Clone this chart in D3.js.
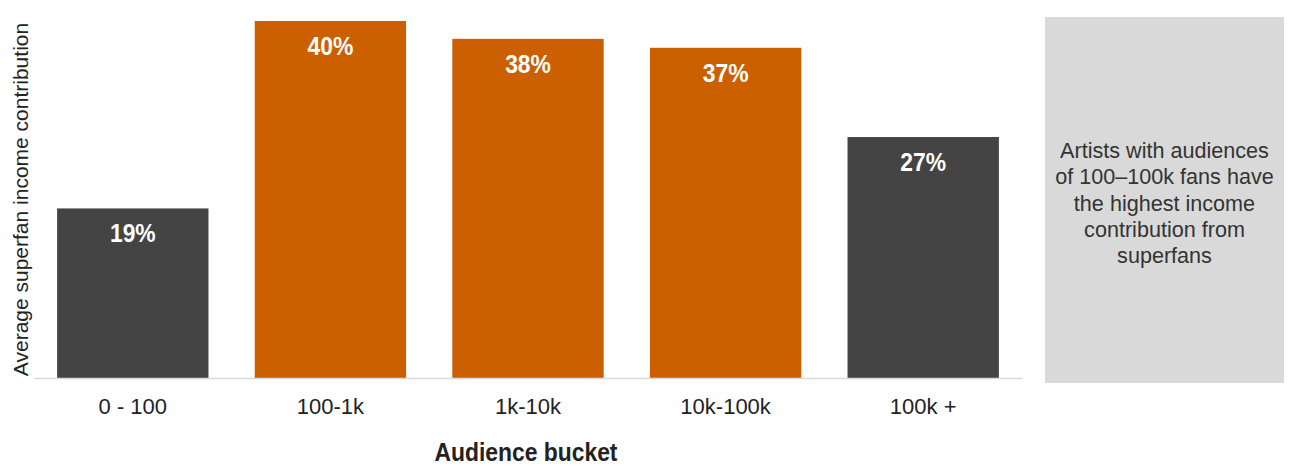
<!DOCTYPE html>
<html>
<head>
<meta charset="utf-8">
<script src="https://cdn.jsdelivr.net/npm/d3@7"></script>
<style>
  html, body { margin: 0; padding: 0; background: #ffffff; }
  svg { display: block; font-family: "Liberation Sans", Arial, sans-serif; }
</style>
</head>
<body>
<svg id="chart" width="1290" height="466"></svg>
<script>
// Audience buckets and the average share of income that comes from superfans
const categories = ["0 - 100", "100-1k", "1k-10k", "10k-100k", "100k +"];
const values = [19, 40, 38, 37, 27];
const highlighted = [false, true, true, true, false];
const yAxisTitle = "Average superfan income contribution";
const xAxisTitle = "Audience bucket";
const noteLines = ["Artists with audiences", "of 100\u2013100k fans have", "the highest income", "contribution from", "superfans"];

const svg = d3.select("#chart");
const plot = { left: 34, right: 1022, top: 21, bottom: 378 };
const condense = 0.88; // horizontal squeeze for the bold, condensed-looking labels

const x = d3.scaleBand()
  .domain(categories)
  .range([plot.left, plot.right])
  .paddingInner(0.234)
  .paddingOuter(0.117);

const y = d3.scaleLinear()
  .domain([0, d3.max(values)])
  .range([plot.bottom, plot.top]);

const data = categories.map((c, i) => ({ cat: c, value: values[i], hi: highlighted[i] }));

// bars
svg.append("g").selectAll("rect")
  .data(data)
  .join("rect")
  .attr("x", d => x(d.cat))
  .attr("y", d => y(d.value))
  .attr("width", x.bandwidth())
  .attr("height", d => y(0) - y(d.value))
  .attr("fill", d => d.hi ? "#cc5f00" : "#444444");

// value labels inside the top of each bar
svg.append("g").selectAll("text")
  .data(data)
  .join("text")
  .attr("transform", d => `translate(${x(d.cat) + x.bandwidth() / 2},${y(d.value) + 34}) scale(${condense},1)`)
  .attr("text-anchor", "middle")
  .attr("font-size", 26)
  .attr("font-weight", "bold")
  .attr("fill", "#ffffff")
  .text(d => d.value + "%");

// x axis: baseline and category labels
const xAxis = svg.append("g")
  .attr("transform", `translate(0,${plot.bottom})`)
  .call(d3.axisBottom(x).tickSize(0).tickPadding(20).tickSizeOuter(0));
xAxis.select(".domain").attr("stroke", "#d9d9d9").attr("stroke-width", 1.5);
xAxis.selectAll(".tick text")
  .attr("font-size", 22)
  .attr("font-family", "Liberation Sans, Arial, sans-serif")
  .attr("fill", "#222222");

// axis titles
svg.append("text")
  .attr("transform", `translate(526,461) scale(${condense},1)`)
  .attr("text-anchor", "middle")
  .attr("font-size", 26)
  .attr("font-weight", "bold")
  .attr("fill", "#222222")
  .text(xAxisTitle);

svg.append("text")
  .attr("transform", `translate(28,${(plot.top + plot.bottom) / 2}) rotate(-90)`)
  .attr("text-anchor", "middle")
  .attr("font-size", 21)
  .attr("fill", "#222222")
  .text(yAxisTitle);

// callout box on the right
const note = svg.append("g");
note.append("rect")
  .attr("x", 1045).attr("y", 17)
  .attr("width", 239).attr("height", 366)
  .attr("fill", "#d9d9d9");
note.append("text")
  .attr("text-anchor", "middle")
  .attr("font-size", 21.6)
  .attr("fill", "#333333")
  .selectAll("tspan")
  .data(noteLines)
  .join("tspan")
  .attr("x", 1164.5)
  .attr("y", (d, i) => 158 + i * 26.3)
  .text(d => d);
</script>
</body>
</html>
